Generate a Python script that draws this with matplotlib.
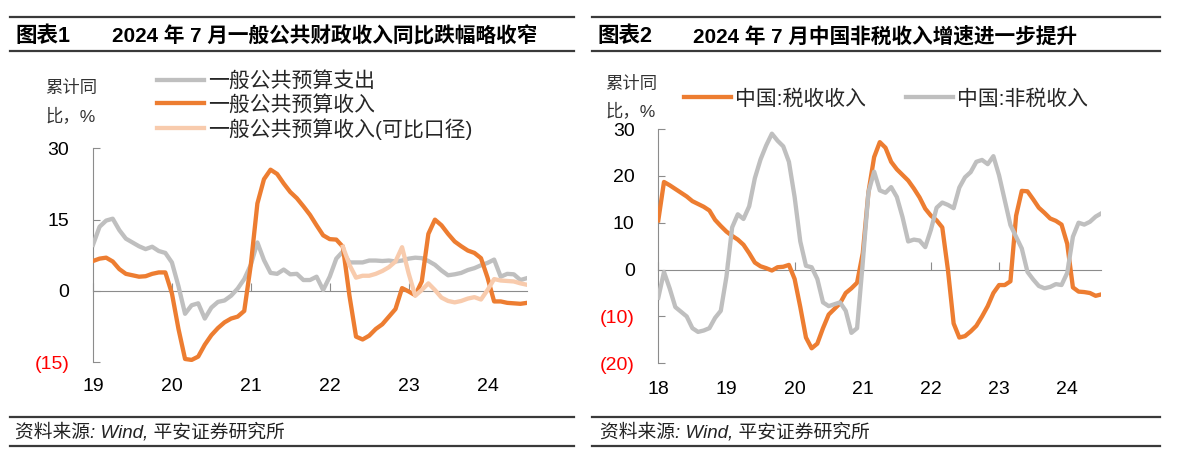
import matplotlib
matplotlib.use("Agg")
import matplotlib.pyplot as plt
from matplotlib.lines import Line2D
import numpy as np

# -----------------------------
# 字体设置
# -----------------------------
plt.rcParams['font.family'] = ['Liberation Sans', 'Noto Sans CJK SC']
plt.rcParams['axes.unicode_minus'] = False

# -----------------------------
# 数据 (月度, 累计同比 %)
# -----------------------------
# 图表1: 2019-01 ~ 2024-07
years_1 = ['19', '20', '21', '22', '23', '24']
spend_1 = [9.7, 13.5, 14.8, 15.2, 12.8, 11.0, 10.2, 9.4, 8.8, 9.3, 8.4, 8.0,
           6.0, 1.0, -4.8, -3.0, -2.6, -5.8, -3.5, -2.3, -2.0, -1.0, 0.5, 2.5,
           5.5, 10.2, 6.5, 3.8, 3.6, 4.5, 3.5, 3.6, 2.3, 2.3, 3.0, 0.2,
           3.0, 6.8, 8.3, 6.0, 6.0, 6.0, 6.4, 6.4, 6.3, 6.4, 6.2, 6.4,
           6.8, 7.0, 6.9, 6.3, 5.5, 4.3, 3.3, 3.5, 3.8, 4.4, 4.8, 5.4,
           5.9, 6.6, 3.0, 3.6, 3.5, 2.3, 2.7]
income_1 = [6.3, 6.8, 7.0, 6.2, 4.6, 3.6, 3.3, 3.0, 3.1, 3.6, 3.9, 3.9,
            -0.5, -8.0, -14.3, -14.5, -13.8, -11.3, -9.3, -7.8, -6.6, -5.8, -5.4, -4.2,
            5.5, 18.4, 23.5, 25.5, 24.6, 22.6, 20.8, 19.5, 17.8, 16.0, 13.8, 11.7,
            10.9, 10.8, 9.3, -1.0, -9.6, -10.2, -9.4, -8.0, -7.0, -5.4, -3.8, 0.6,
            -0.1, -0.9, 2.0, 12.0, 15.0, 13.8, 12.0, 10.4, 9.4, 8.5, 8.0, 6.9,
            2.8, -2.2, -2.2, -2.5, -2.6, -2.7, -2.5]
# 可比口径从 2022-03 开始
comp_start_1 = 38
income_comp_1 = [9.3, 5.5, 2.8, 3.2, 3.2, 3.6, 4.2, 5.0, 6.2, 9.2,
                 3.7, -1.0, 0.2, 1.6, 0.2, -1.4, -2.1, -2.4, -2.1, -1.6,
                 -1.3, -1.8, 0.2, 2.5, 2.2, 2.1, 2.0, 1.6, 1.3]
names_1 = ['一般公共预算支出', '一般公共预算收入', '一般公共预算收入(可比口径)']

# 图表2: 2018-01 ~ 2024-07
years_2 = ['18', '19', '20', '21', '22', '23', '24']
tax_2 = [10.5, 18.7, 18.0, 17.2, 16.4, 15.6, 14.6, 14.0, 13.4, 12.6, 10.6, 9.3,
         8.1, 7.2, 6.4, 5.3, 3.5, 1.5, 0.7, 0.3, -0.2, 0.5, 0.6, 1.0,
         -2.0, -8.0, -14.5, -16.8, -15.8, -12.5, -9.6, -8.4, -7.2, -5.0, -4.0, -2.8,
         3.5, 16.5, 24.0, 27.2, 26.0, 23.0, 21.4, 20.2, 19.0, 17.3, 15.4, 13.0,
         11.5, 10.5, 9.0, -0.1, -11.5, -14.5, -14.2, -13.2, -12.0, -10.0, -7.8, -5.0,
         -3.3, -3.3, -2.5, 11.5, 16.8, 16.7, 15.0, 13.2, 12.1, 10.9, 10.4, 9.6,
         5.5, -3.8, -4.7, -4.8, -5.0, -5.6, -5.3]
nontax_2 = [-6.0, -0.5, -4.0, -8.0, -9.0, -10.0, -12.5, -13.3, -13.0, -12.5, -10.3, -8.8,
            -1.5, 9.0, 11.8, 10.8, 13.5, 19.5, 23.5, 26.5, 29.0, 27.5, 26.3, 23.0,
            15.5, 6.0, 0.8, 0.5, -2.0, -7.0, -7.8, -7.4, -7.0, -8.8, -13.5, -12.5,
            1.5, 16.5, 20.9, 16.9, 16.4, 17.6, 15.5, 11.2, 6.0, 6.4, 6.2, 4.8,
            8.5, 13.2, 14.3, 13.8, 13.1, 17.5, 19.7, 20.8, 23.0, 23.4, 22.5, 24.2,
            20.1, 14.8, 9.5, 7.0, 4.5, -0.5, -2.1, -3.5, -4.0, -3.7, -3.1, -3.3,
            -0.7, 7.0, 10.0, 9.6, 10.2, 11.3, 12.0]
names_2 = ['中国:税收收入', '中国:非税收入']

# -----------------------------
# 样式
# -----------------------------
W, H = 1178, 459
ORANGE = '#ED7D31'
GRAY = '#BFBFBF'
LIGHT = '#F8CBAD'
AXIS_GRAY = '#8C8C8C'
RULE = '#3A3A3A'
LW = 3.1


def px(x, y):
    """像素坐标 -> figure 坐标"""
    return x / W, 1 - y / H


def fmt_tick(v):
    """负数用括号表示"""
    return f'({abs(v):.0f})' if v < 0 else f'{v:.0f}'


def setup_axes(ax, n, yticks, ylim, year_labels, xpad):
    ax.set_xlim(0, n - 1)
    ax.set_ylim(ylim)
    ax.spines['top'].set_visible(False)
    ax.spines['right'].set_visible(False)
    ax.spines['left'].set_color(AXIS_GRAY)
    ax.spines['bottom'].set_position(('data', 0))  # 0 轴
    ax.spines['bottom'].set_color(AXIS_GRAY)

    year_pos = np.arange(0, n, 12)
    ax.set_xticks(year_pos)
    ax.tick_params(axis='x', direction='in', length=6, color=AXIS_GRAY, labelbottom=False)

    ax.set_yticks(yticks, labels=[fmt_tick(t) for t in yticks])
    ax.tick_params(axis='y', direction='in', length=5, color=AXIS_GRAY, pad=17, labelsize=14)
    for lbl, t in zip(ax.get_yticklabels(), yticks):
        if t < 0:
            lbl.set_color('#FF0000')

    # 年份标签放在底部
    sec = ax.secondary_xaxis('bottom')
    sec.set_xticks(year_pos, labels=year_labels)
    sec.tick_params(length=0, pad=xpad, labelsize=14)
    sec.spines['bottom'].set_visible(False)


def header_footer(fig, x0, x1, tag, title, tag_x, title_x, foot_x):
    for y in (17.3, 51, 417, 446):
        fig.add_artist(Line2D([x0 / W, x1 / W], [1 - y / H, 1 - y / H],
                              transform=fig.transFigure, color=RULE, lw=1.6))
    fig.text(*px(tag_x, 36.5), tag, fontsize=15.5, fontweight='bold', va='center')
    fig.text(*px(title_x, 36.5), title, fontsize=14.9, fontweight='bold', va='center')
    fig.text(*px(foot_x, 432), '资料来源: Wind, 平安证券研究所', fontsize=13.5,
             style='italic', va='center', color='#222222')


# -----------------------------
# 画图
# -----------------------------
fig = plt.figure(figsize=(W / 100, H / 100), dpi=100)

# 图表1
ax1 = fig.add_axes([93 / W, 1 - 362.3 / H, 434 / W, 214 / H])
x1 = np.arange(len(spend_1))
ax1.plot(x1, spend_1, color=GRAY, lw=LW, zorder=3, label=names_1[0])
ax1.plot(x1, income_1, color=ORANGE, lw=LW, zorder=3, label=names_1[1])
ax1.plot(np.arange(comp_start_1, comp_start_1 + len(income_comp_1)), income_comp_1,
         color=LIGHT, lw=LW, zorder=3, label=names_1[2])
setup_axes(ax1, len(spend_1), [30, 15, 0, -15], (-15, 30), years_1, 11)
ax1.legend(loc='upper left', bbox_to_anchor=px(157, 71), bbox_transform=fig.transFigure,
           frameon=False, fontsize=15, handlelength=2.25, handletextpad=0.2,
           labelspacing=0.17, borderpad=0, borderaxespad=0, labelcolor='#262626')

# 图表2
ax2 = fig.add_axes([658.3 / W, 1 - 363.3 / H, 443 / W, 234.3 / H])
x2 = np.arange(len(tax_2))
ax2.plot(x2, tax_2, color=ORANGE, lw=LW, zorder=3, label=names_2[0])
ax2.plot(x2, nontax_2, color=GRAY, lw=LW, zorder=3, label=names_2[1])
setup_axes(ax2, len(tax_2), [30, 20, 10, 0, -10, -20], (-20, 30), years_2, 12.5)
ax2.legend(loc='upper left', bbox_to_anchor=px(684, 89), bbox_transform=fig.transFigure,
           ncol=2, frameon=False, fontsize=15, handlelength=2.25, handletextpad=0.2,
           columnspacing=1.9, borderpad=0, borderaxespad=0, labelcolor='#262626')

# 纵轴说明
fig.text(*px(45, 102), '累计同\n比，%', fontsize=12.5, linespacing=1.75, va='center', color='#333333')
fig.text(*px(605, 97.5), '累计同\n比，%', fontsize=12.5, linespacing=1.68, va='center', color='#333333')

# 标题与来源
header_footer(fig, 10, 574, '图表1', '2024 年 7 月一般公共财政收入同比跌幅略收窄', 15, 112, 15)
header_footer(fig, 592, 1160, '图表2', '2024 年 7 月中国非税收入增速进一步提升', 597, 693, 600)

fig.savefig('out.png', dpi=100)
